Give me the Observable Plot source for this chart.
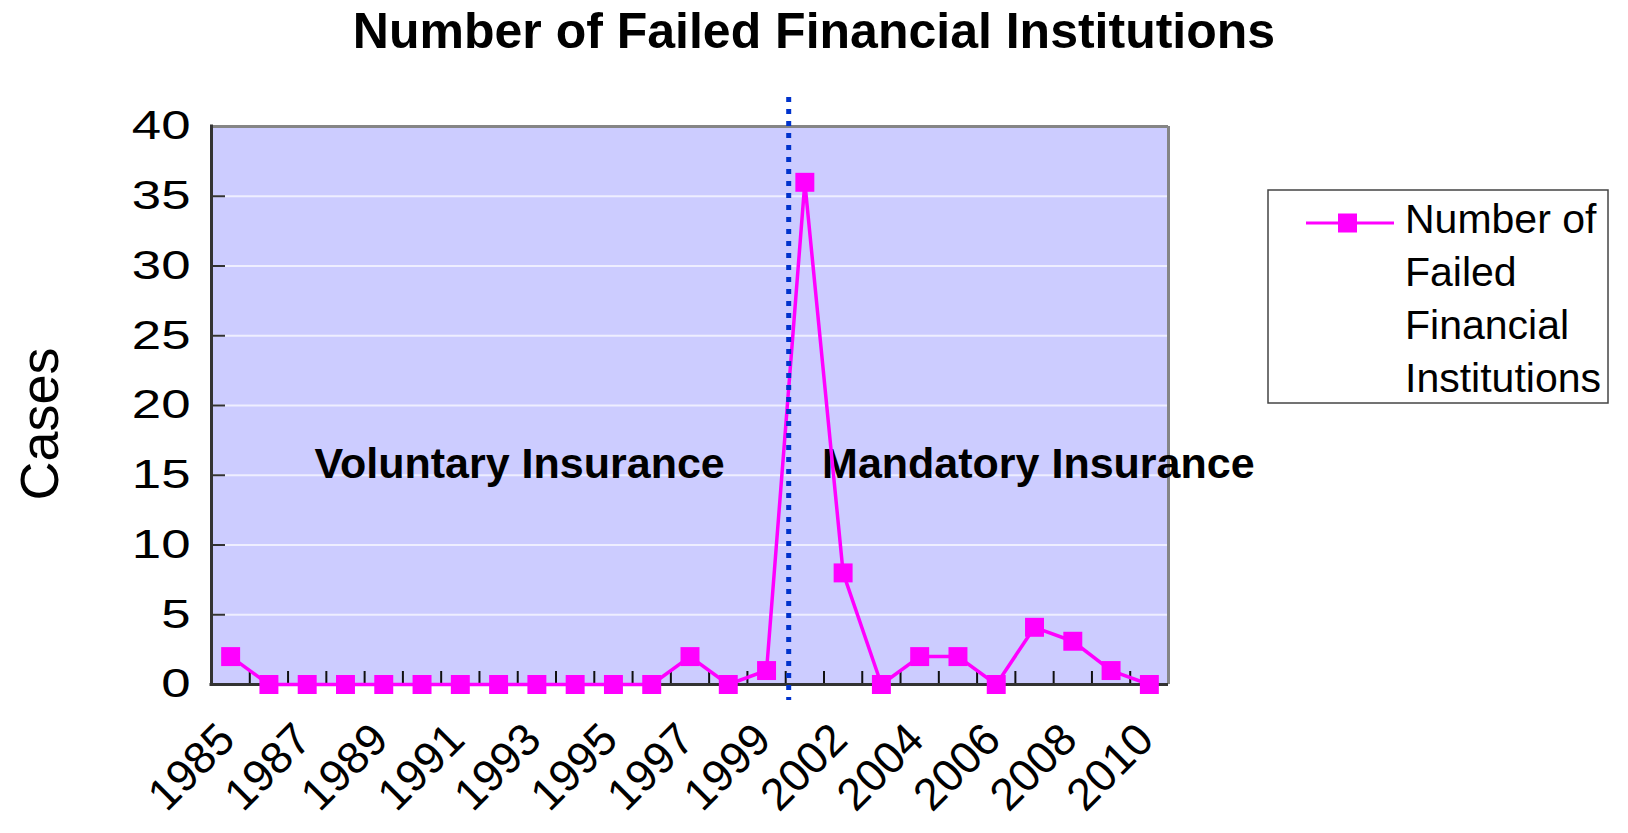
<!DOCTYPE html>
<html>
<head>
<meta charset="utf-8">
<script src="https://cdn.jsdelivr.net/npm/d3@7"></script>
<script src="https://cdn.jsdelivr.net/npm/@observablehq/plot@0.6"></script>
<style>
  html, body { margin: 0; padding: 0; background: #fff; }
  #chart svg { display: block; }
</style>
</head>
<body>
<div id="chart"></div>
<script>
// ---- data ----
const years = ["1985","1986","1987","1988","1989","1990","1991","1992","1993","1994","1995","1996","1997","1998","1999",
               "2001","2002","2003","2004","2005","2006","2007","2008","2009","2010"];
const cases = [2,0,0,0,0,0,0,0,0,0,0,0,2,0,1,36,8,0,2,2,0,4.1,3.1,1,0];
const labelYears = ["1985","1987","1989","1991","1993","1995","1997","1999","2002","2004","2006","2008","2010"];
const yTicks = [0,5,10,15,20,25,30,35,40];
const regimeLabels = ["Voluntary Insurance","Mandatory Insurance"];
const regimeX = [7.55, 21.1];
const regimeY = [16, 16];
const breakBetween = ["1999","2001"];
const seriesName = ["Number of","Failed","Financial","Institutions"];
const titleText = "Number of Failed Financial Institutions";
const yLabel = "Cases";

// ---- derived tables ----
const data = years.map((y, i) => ({i, year: y, value: cases[i]}));
const labelIdx = labelYears.map(y => years.indexOf(y));
const boundaries = d3.range(0.5, years.length - 1, 1);
const breakX = (years.indexOf(breakBetween[0]) + years.indexOf(breakBetween[1])) / 2;
const regimes = regimeLabels.map((t, k) => ({t, x: regimeX[k], y: regimeY[k]}));

const W = 1628, H = 833;
const ML = 211, MR = 1628 - 1168, MT = 126, MB = 833 - 684;
const FONT = "'Liberation Sans', Arial, Helvetica, sans-serif";
const STRETCH = 1.32;

const chart = Plot.plot({
  width: W,
  height: H,
  marginLeft: ML,
  marginRight: MR,
  marginTop: MT,
  marginBottom: MB,
  style: {fontFamily: FONT, fontSize: "40px", background: "#fff", overflow: "visible", color: "#000"},
  x: {type: "linear", domain: [-0.5, years.length - 0.5], axis: null},
  y: {type: "linear", domain: [0, 40], axis: null},
  marks: [
    Plot.frame({fill: "#CCCCFF", stroke: "none"}),
    Plot.gridY(yTicks.filter(d => d > 0 && d < 40), {stroke: "#EEEEFF", strokeOpacity: 1, strokeWidth: 2}),
    // inward y ticks
    Plot.axisY({ticks: yTicks, tickSize: -14, tickFormat: () => "", label: null, stroke: "#333", strokeWidth: 2}),
    // y tick labels
    Plot.axisY({ticks: yTicks, tickSize: 0, tickPadding: 21, label: null, fontSize: 40}),
    // inward x ticks at category boundaries
    Plot.axisX({ticks: boundaries, tickSize: -13, tickFormat: () => "", label: null, stroke: "#111", strokeWidth: 2}),
    // plot border
    Plot.ruleY([40], {stroke: "#858585", strokeWidth: 3}),
    Plot.ruleX([years.length - 0.5], {stroke: "#858585", strokeWidth: 3}),
    Plot.ruleX([-0.5], {stroke: "#333", strokeWidth: 3, insetTop: -1.5, insetBottom: -1.5}),
    Plot.ruleY([0], {stroke: "#333", strokeWidth: 3, insetLeft: -1.5}),
    // rotated x labels
    Plot.text(labelIdx, {
      x: d => d, frameAnchor: "bottom", text: d => years[d],
      rotate: -45, textAnchor: "end", lineAnchor: "top",
      dx: -16, dy: 35, fontSize: 45, fill: "#000"
    }),
    // regime annotations
    Plot.text(regimes, {x: "x", y: "y", text: "t", fontSize: 43, fontWeight: "bold", fill: "#000", lineAnchor: "bottom", dy: 17}),
    // series
    Plot.line(data, {x: "i", y: "value", stroke: "#FF00FF", strokeWidth: 3.5}),
    Plot.dot(data, {x: "i", y: "value", symbol: "square", r: 10.7, fill: "#FF00FF", stroke: "none"}),
    // regime change line
    Plot.ruleX([breakX], {stroke: "#0033CC", strokeWidth: 5, strokeDasharray: "5,7", dx: 3, insetTop: -29, insetBottom: -16})
  ]
});

const svg = d3.select(chart);
// y tick labels in the reference are horizontally stretched: widen them about their anchor
const yTickStrings = new Set(yTicks.map(String));
svg.selectAll("text").each(function() {
  const t = d3.select(this);
  const s = this.textContent;
  const tr = t.attr("transform") || "";
  if (yTickStrings.has(s) && !tr.includes("rotate")) {
    const x = +t.attr("x") || 0, y = +t.attr("y") || 0;
    t.attr("transform", `${tr} translate(${x},${y}) scale(${STRETCH},1) translate(${-x},${-y})`);
  }
});
// title
svg.append("text").attr("x", 814).attr("y", 48).attr("text-anchor", "middle")
  .attr("font-family", FONT).attr("font-size", 50).attr("font-weight", "bold").attr("fill", "#000")
  .text(titleText);
// y axis title
svg.append("text").attr("transform", "translate(58,424) rotate(-90)").attr("text-anchor", "middle")
  .attr("font-family", FONT).attr("font-size", 54).attr("fill", "#000")
  .text(yLabel);
// legend
const lg = svg.append("g").attr("text-anchor", "start");
lg.append("rect").attr("x", 1268).attr("y", 190).attr("width", 340).attr("height", 213)
  .attr("fill", "#fff").attr("stroke", "#444").attr("stroke-width", 1.5);
lg.append("line").attr("x1", 1306).attr("x2", 1394).attr("y1", 223).attr("y2", 223)
  .attr("stroke", "#FF00FF").attr("stroke-width", 3);
lg.append("rect").attr("x", 1338).attr("y", 213.5).attr("width", 19).attr("height", 19).attr("fill", "#FF00FF");
seriesName.forEach((s, k) => {
  lg.append("text").attr("x", 1405).attr("y", 233 + k * 53).attr("text-anchor", "start")
    .attr("font-family", FONT).attr("font-size", 41).attr("fill", "#000").text(s);
});

document.getElementById("chart").append(chart);
</script>
</body>
</html>
